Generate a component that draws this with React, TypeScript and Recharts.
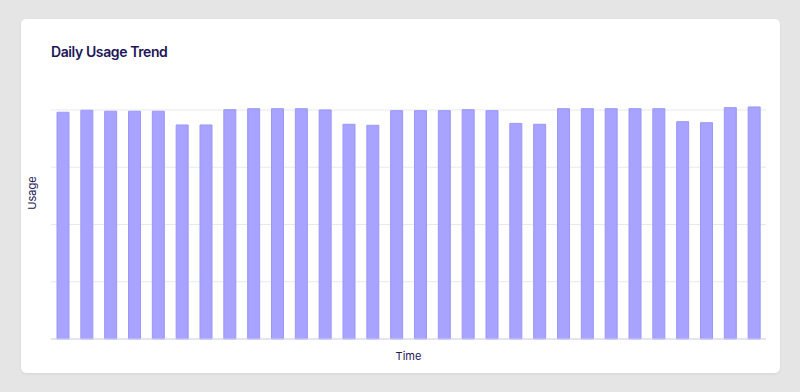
import React from 'react';
import { BarChart, Bar, XAxis, YAxis, CartesianGrid } from 'recharts';

const days: string[] = Array.from({ length: 30 }, (_, i) => `Day ${i + 1}`);
const usage: number[] = [
  7920, 7990, 7955, 7955, 7955, 7476, 7476, 8010, 8045, 8045,
  8045, 8000, 7500, 7465, 7975, 7975, 7975, 8010, 7975, 7530,
  7500, 8045, 8045, 8045, 8045, 8045, 7590, 7555, 8080, 8105,
];
const yTicks: number[] = [0, 2000, 4000, 6000, 8000];
const yDomain: [number, number] = [0, 8400];

const data = days.map((d, i) => ({ day: d, usage: usage[i] }));

const NAVY = '#1c1657';

const EmptyTick = () => <g />;

const YLabel = (props: any) => {
  const vb = props.viewBox || {};
  const x = vb.x + 11;
  const y = 193;
  return (
    <text x={x} y={y} transform={`rotate(-90 ${x} ${y})`} textAnchor="middle" dominantBaseline="central"
      fill={NAVY} fontSize={11} fontFamily="Inter, sans-serif">Usage</text>
  );
};

const XLabel = (props: any) => {
  const vb = props.viewBox || {};
  const x = vb.x + vb.width / 2;
  const y = vb.y + 17;
  return (
    <text x={x} y={y} textAnchor="middle" dominantBaseline="central"
      fill={NAVY} fontSize={11} fontFamily="Inter, sans-serif">Time</text>
  );
};

export default function App() {
  return (
    <div style={{ position: 'fixed', left: 0, top: 0, width: 800, height: 392, background: '#e5e5e5', overflow: 'hidden' }}>
      <div style={{ position: 'absolute', left: 21, top: 19, width: 759, height: 354, background: '#fff', borderRadius: 5, boxShadow: '0 1px 3px rgba(0,0,0,0.08)' }} />
      <div style={{ position: 'absolute', left: 51, top: 45, fontFamily: 'Inter, sans-serif', fontSize: 14, lineHeight: '14px', fontWeight: 600, letterSpacing: '-0.4px', color: NAVY, whiteSpace: 'nowrap' }}>
        Daily Usage Trend
      </div>
      <div style={{ position: 'absolute', left: 0, top: 0 }}>
        <BarChart width={800} height={392} data={data} margin={{ top: 98.5, right: 34, bottom: 23, left: 21 }}>
          <CartesianGrid vertical={false} stroke="#e9e9ec" syncWithTicks={true} />
          <XAxis dataKey="day" tick={false} tickLine={false} axisLine={{ stroke: '#d6d4f2' }} height={30} label={<XLabel />} />
          <YAxis domain={yDomain} ticks={yTicks} tick={<EmptyTick />} tickLine={false} axisLine={false} width={30} label={<YLabel />} />
          <Bar dataKey="usage" fill="#a7a3ff" stroke="#9c97f6" strokeWidth={1} barSize={12} isAnimationActive={false} />
        </BarChart>
      </div>
    </div>
  );
}
